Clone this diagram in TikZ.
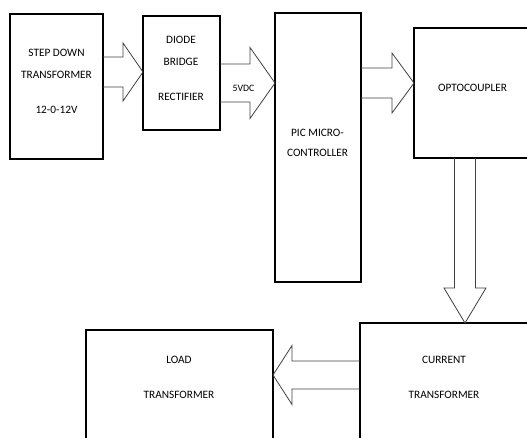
\documentclass[tikz,border=0pt]{standalone}
\usepackage{fontspec}
\setmainfont{Carlito}
\usepackage{tikz}
\usetikzlibrary{calc,positioning}
\tikzset{
  unit block/.style={rectangle,draw=black,fill=white,line width=1.1pt,
    inner sep=0pt,outer sep=0pt},
  unit text/.style={align=center,inner sep=0pt,
    font=\fontsize{11.3}{13.5}\selectfont},
  rail label/.style={inner sep=0pt,font=\fontsize{9.8}{12}\selectfont},
  block arrow/.style={draw=black!75,line width=0.8pt,line join=miter}
}
% hollow arrow: from, tip, shaft half width, head half width, head length
\newcommand{\blockarrow}[5]{%
  \coordinate (bahead) at ($(#2)!#5pt!(#1)$);
  \draw[block arrow] ($(#1)!#3pt!90:(#2)$) -- ($(bahead)!#3pt!-90:(#1)$)
    -- ($(bahead)!#4pt!-90:(#1)$) -- (#2) -- ($(bahead)!#4pt!90:(#1)$)
    -- ($(bahead)!#3pt!90:(#1)$) -- ($(#1)!#3pt!-90:(#2)$);
}

\begin{document}
\begin{tikzpicture}[x=1pt,y=-1pt]
  \useasboundingbox (0,0) rectangle (527,437);
  \clip (0,0) rectangle (527,437);
  \node[unit block,minimum width=93pt,minimum height=145pt] (step) at (56.5,86.5) {};
  \node[unit block,minimum width=77pt,minimum height=114pt] (diode) at (181.5,73) {};
  \node[unit block,minimum width=86pt,minimum height=269pt] (pic) at (318,147.5) {};
  \node[unit block,minimum width=126pt,minimum height=130pt] (opto) at (477,93) {};
  \node[unit block,minimum width=180pt,minimum height=127pt] (current) at (450,386.5) {};
  \node[unit block,minimum width=187pt,minimum height=120pt] (load) at (179.5,390) {};
  % labels
  \node[unit text] (steplabel) at (56.5,81.5)
    {STEP DOWN\\[8.5pt]TRANSFORMER\\[21.5pt]12-0-12V};
  \node[unit text] (diodelabel) at (181,68.5)
    {DIODE\\[8.5pt]BRIDGE\\[21.5pt]RECTIFIER};
  \node[unit text] (piclabel) at (317.5,143) {PIC MICRO-\\[6.5pt]CONTROLLER};
  \node[unit text] (optolabel) at (472.5,88) {OPTOCOUPLER};
  \node[unit text] (currentlabel) at (444,377.5) {CURRENT\\[21.5pt]TRANSFORMER};
  \node[unit text] (loadlabel) at (179,377.5) {LOAD\\[21.5pt]TRANSFORMER};
  \node[rail label] (dclabel) at (243.5,88) {5VDC};
  % arrow ends
  \coordinate (stepout) at (step.east |- 0,72);
  \coordinate (diodein) at (diode.west |- 0,72);
  \coordinate (diodeout) at (diode.east |- 0,83);
  \coordinate (picin) at (pic.west |- 0,83);
  \coordinate (picout) at (pic.east |- 0,83);
  \coordinate (optoin) at (opto.west |- 0,83);
  \coordinate (optoout) at (opto.south -| 465,0);
  \coordinate (currentin) at (current.north -| 465,0);
  \coordinate (currentout) at (current.west |- 0,375);
  \coordinate (loadin) at (load.east |- 0,375);
  \foreach \from/\to/\shaft/\head/\len in {stepout/diodein/15/29/20,
      diodeout/picin/19/35.5/25,picout/optoin/15/30/22,
      optoout/currentin/10.5/21/35,currentout/loadin/14/29.5/19}
    \blockarrow{\from}{\to}{\shaft}{\head}{\len};
\end{tikzpicture}
\end{document}
